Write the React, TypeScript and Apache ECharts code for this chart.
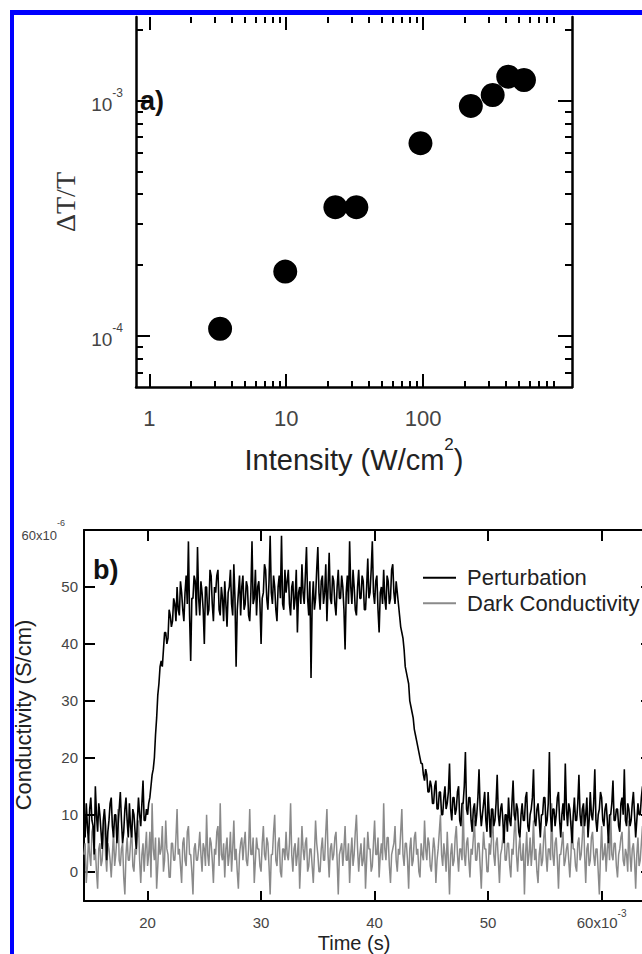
import React, { useEffect, useRef } from "react";
import * as echarts from "echarts";

// ---------- Panel a) : ΔT/T versus intensity (log-log) ----------
const INTENSITY = [3.29, 9.84, 22.85, 32.54, 95.6, 223, 322, 418, 545]; // W/cm^2
const DELTA_T = [1.073e-4, 1.878e-4, 3.524e-4, 3.524e-4, 6.59e-4, 9.49e-4, 1.056e-3, 1.263e-3, 1.223e-3];
const INTENSITY_RANGE = [0.8, 1222];
const DELTA_T_RANGE = [6.07e-5, 2.265e-3];
const INTENSITY_MAJOR = [1, 10, 100];
const INTENSITY_MINOR = [2, 3, 4, 5, 6, 7, 8, 9, 20, 30, 40, 50, 60, 70, 80, 90, 200, 300, 400, 500, 600, 700, 800, 900];
const DELTA_T_MAJOR = [1e-4, 1e-3];
const DELTA_T_MINOR = [7e-5, 8e-5, 9e-5, 2e-4, 3e-4, 4e-4, 5e-4, 6e-4, 7e-4, 8e-4, 9e-4, 2e-3];

// ---------- Panel b) : conductivity versus time ----------
const TIME_START = 14.4; // x10^-3 s
const TIME_STEP = 0.1;
const TIME_RANGE = [14.4, 64.35];
const TIME_TICKS = [20, 30, 40, 50, 60];
const COND_RANGE = [-5.15, 60];
const COND_TICKS = [0, 10, 20, 30, 40, 50, 60];

// x10^-6 S/cm, one value every 0.1 ms starting at 14.4 ms
const PERTURBATION = [
  9, 6, 12, 8, 5, 11, 13, 9, 8, 3, 15, 10, 7, 12, 10, 7, 4, 9, 11, 8,
  2, 7, 9, 12, 13, 8, 6, 10, 10, 5, 8, 11, 14, 9, 5, 7, 11, 13, 9, 6,
  12, 8, 6, 11, 10, 7, 4, 9, 13, 10, 8, 12, 16, 9, 9, 11, 10, 12, 13, 15,
  17, 18, 20, 24, 27, 31, 33, 36, 37, 36, 39, 42, 42, 40, 41, 46, 45, 43, 44, 48,
  47, 44, 50, 46, 45, 51, 49, 46, 44, 49, 52, 47, 58, 45, 37, 48, 48, 52, 51, 45,
  57, 48, 45, 51, 49, 46, 40, 50, 50, 45, 46, 53, 52, 47, 44, 50, 49, 52, 53, 46,
  45, 50, 48, 44, 51, 47, 43, 49, 50, 53, 47, 45, 54, 48, 36, 46, 49, 52, 45, 50,
  52, 46, 47, 51, 50, 45, 44, 49, 58, 47, 48, 53, 45, 50, 51, 47, 40, 48, 49, 54,
  53, 48, 46, 51, 59, 49, 47, 52, 50, 46, 44, 50, 52, 48, 59, 47, 46, 53, 49, 51,
  53, 47, 45, 50, 51, 46, 48, 53, 42, 49, 50, 47, 54, 49, 47, 52, 57, 48, 45, 51,
  34, 47, 51, 46, 48, 53, 57, 49, 46, 51, 52, 47, 49, 54, 44, 50, 56, 48, 47, 52,
  51, 47, 45, 50, 53, 48, 48, 52, 50, 46, 39, 49, 52, 47, 58, 50, 47, 53, 50, 46,
  45, 50, 53, 48, 48, 52, 51, 46, 46, 50, 55, 48, 49, 53, 58, 49, 47, 51, 52, 46,
  42, 49, 50, 47, 53, 48, 46, 52, 51, 47, 48, 53, 54, 49, 47, 51, 49, 47, 45, 43,
  42, 41, 39, 36, 35, 34, 33, 30, 29, 28, 27, 25, 24, 23, 22, 21, 20, 19, 19, 17,
  16, 18, 17, 14, 14, 16, 15, 12, 12, 15, 16, 11, 11, 14, 14, 10, 10, 13, 15, 11,
  12, 14, 19, 11, 9, 13, 13, 10, 11, 14, 15, 9, 8, 12, 12, 15, 21, 11, 10, 13,
  13, 9, 7, 11, 12, 8, 10, 13, 18, 11, 8, 10, 12, 14, 9, 7, 14, 10, 6, 11,
  11, 8, 9, 12, 17, 10, 8, 11, 12, 9, 5, 10, 10, 7, 13, 9, 8, 12, 16, 10,
  9, 12, 11, 7, 6, 10, 12, 9, 9, 13, 14, 8, 7, 10, 11, 13, 18, 9, 8, 11,
  12, 9, 6, 10, 10, 13, 13, 8, 9, 12, 21, 10, 7, 11, 11, 8, 10, 13, 14, 9,
  6, 10, 12, 9, 19, 11, 8, 12, 11, 8, 5, 10, 13, 9, 9, 12, 17, 10, 8, 11,
  12, 8, 10, 13, 6, 9, 14, 10, 9, 12, 18, 9, 7, 10, 11, 14, 13, 9, 8, 11,
  12, 9, 5, 10, 10, 12, 16, 9, 9, 11, 11, 8, 7, 12, 13, 10, 18, 9, 8, 12,
  11, 8, 9, 12, 14, 10, 6, 9, 12, 10, 10, 13, 15, 9, 8, 11, 11, 7, 9, 12,
];

const DARK_CONDUCTIVITY = [
  3, 5, -2, 1, 6, 3, 1, 7, 8, 2, 4, 0, -3, 4, 5, 1, 2, 6, 10, 3,
  0, 5, 4, 2, -1, 3, 7, 1, 3, 6, 11, 2, 1, 4, 5, -1, -4, 3, 6, 2,
  2, 5, 8, 1, 0, 4, 3, 6, 9, 2, -2, 3, 5, 0, 4, 7, 1, 3, 7, -1,
  12, 4, 2, 6, -3, 1, 6, 3, 4, 8, 0, 2, 9, 4, 3, -1, -1, 5, 5, 2,
  2, 6, 11, 3, 4, 1, -2, 5, 6, 2, 1, 7, 8, 3, 3, 0, -4, 4, 5, 2,
  2, 4, 7, 3, 0, 5, 4, 1, 10, 3, 1, 6, 5, 2, -2, 4, 3, 7, 8, 1,
  12, 3, 2, 5, -1, 4, 6, 1, 3, 7, 0, 4, 9, 2, 4, 0, -3, 3, 5, 6,
  2, 5, 7, 2, 1, 4, 11, 3, 3, 6, -2, 2, 6, 4, 4, 1, 0, 5, 8, 3,
  2, 6, 5, 1, -4, 3, 3, 7, 10, 2, 1, 5, 6, 0, -1, 4, 4, 2, 7, 3,
  2, 5, 12, 3, 0, 4, 5, 1, 3, 6, -3, 2, 8, 4, 2, 5, 6, 0, 1, 4,
  4, 1, -2, 3, 9, 5, 3, 0, 0, 4, 6, 2, 2, 7, 11, 3, -1, 4, 5, 2,
  3, 6, 7, 2, -4, 3, 4, 5, 1, 4, 8, 2, 2, 5, -2, 3, 6, 1, 3, 7,
  10, 4, 0, 3, 5, 1, 2, 6, -3, 2, 7, 4, 4, 0, 1, 5, 9, 3, 3, 6,
  -1, 3, 5, 2, 12, 4, 2, 6, 6, 1, -2, 3, 4, 5, 8, 2, 0, 4, 3, 7,
  11, 3, 1, 5, 5, 2, -3, 4, 6, 1, 2, 6, 7, 3, 4, 0, -1, 5, 3, 2,
  9, 4, 2, 6, 5, 1, 0, 3, 6, 4, -2, 2, 4, 7, 10, 3, 1, 5, 3, 0,
  7, 2, -4, 3, 5, 1, 2, 6, 8, 3, 0, 4, 4, 2, 12, 3, 1, 5, 6, 2,
  -1, 4, 3, 6, 9, 2, 2, 5, 5, 1, -3, 3, 7, 4, 4, 0, 0, 5, 3, 6,
  11, 3, 1, 5, 6, 2, -2, 3, 4, 6, 8, 2, 2, 5, 5, 1, -1, 4, 3, 7,
  10, 3, 0, 4, 6, 2, 2, 5, -4, 3, 7, 1, 3, 6, 1, 4, 9, 2, 4, 0,
  -2, 3, 5, 1, 2, 6, 8, 3, 0, 4, 4, 2, 12, 3, 1, 5, 6, 2, -3, 3,
  3, 5, 7, 1, 2, 4, 5, 2, -1, 3, 9, 4, 4, 1, 0, 5, 6, 2, 3, 6,
  11, 3, -2, 4, 5, 1, 2, 6, 7, 3, 1, 4, 4, 0, -4, 3, 8, 2, 3, 5,
  0, 4, 6, 2, 10, 3, 2, 5, 5, 1, -1, 3, 4, 6, 7, 2, 1, 4, 3, 0,
  9, 3, 0, 4, 5, 2, -3, 3, 6, 1, 2, 5, 8, 3, 4, 0, 1, 4, 3, 2,
];

const lg = (v: number) => Math.log10(v);
const F = "'Liberation Sans', Arial, Helvetica, sans-serif";
const SERIF = "'Liberation Serif', 'Times New Roman', serif";
const LBL = "#444";

function axis(
  grid: number,
  position: string,
  range: number[],
  ticks: number[],
  len: number,
  showLine: boolean,
  lineWidth: number,
  label?: any
) {
  return {
    type: "value",
    gridIndex: grid,
    position,
    offset: 0,
    min: range[0],
    max: range[1],
    splitLine: { show: false },
    axisLine: { show: showLine, onZero: false, lineStyle: { color: "#000", width: lineWidth } },
    axisTick: {
      show: true,
      inside: true,
      length: len,
      customValues: ticks,
      lineStyle: { color: "#000", width: 2 },
    },
    axisLabel: label ?? { show: false },
    axisPointer: { show: false },
  };
}

export default function App() {
  const ref = useRef<HTMLDivElement>(null);

  useEffect(() => {
    const chart = echarts.init(ref.current!, null, { renderer: "svg" });

    const xLogRange = INTENSITY_RANGE.map(lg);
    const yLogRange = DELTA_T_RANGE.map(lg);
    const timeOf = (i: number) => Number((TIME_START + i * TIME_STEP).toFixed(2));

    const option: any = {
      animation: false,
      backgroundColor: "#fff",
      grid: [
        { left: 136, top: 17, width: 436, height: 370, containLabel: false, outerBoundsMode: "none" },
        { left: 84, top: 530, width: 567, height: 371, containLabel: false, outerBoundsMode: "none" },
      ],
      xAxis: [
        axis(0, "bottom", xLogRange, INTENSITY_MAJOR.map(lg), 13, true, 2.5, {
          show: true,
          customValues: INTENSITY_MAJOR.map(lg),
          formatter: (v: number) => String(Math.round(Math.pow(10, v))),
          margin: 20,
          fontSize: 22,
          color: LBL,
          fontFamily: F,
        }),
        axis(0, "bottom", xLogRange, INTENSITY_MINOR.map(lg), 6, false, 2.5),
        axis(0, "top", xLogRange, INTENSITY_MAJOR.map(lg), 13, false, 2.5),
        axis(0, "top", xLogRange, INTENSITY_MINOR.map(lg), 6, false, 2.5),
        axis(1, "bottom", TIME_RANGE, TIME_TICKS, 10, true, 2, {
          show: true,
          customValues: TIME_TICKS,
          formatter: (v: number) => (v === 60 ? "{n|60x10}{s|-3}" : "{n|" + v + "}"),
          margin: 7,
          rich: {
            n: { fontSize: 15, color: LBL, fontFamily: F, padding: [7, 0, 0, 0], verticalAlign: "bottom" },
            s: { fontSize: 10, color: LBL, fontFamily: F, verticalAlign: "top" },
          },
        }),
        axis(1, "top", TIME_RANGE, TIME_TICKS, 11, true, 2),
      ],
      yAxis: [
        axis(0, "left", yLogRange, DELTA_T_MAJOR.map(lg), 14, true, 2.5, {
          show: true,
          customValues: DELTA_T_MAJOR.map(lg),
          formatter: (v: number) => "{b|10}{s|" + Math.round(v) + "}",
          margin: 13,
          rich: {
            b: { fontSize: 19, color: LBL, fontFamily: F, padding: [8, 0, 0, 0], verticalAlign: "bottom" },
            s: { fontSize: 12, color: LBL, fontFamily: F, verticalAlign: "top" },
          },
        }),
        axis(0, "left", yLogRange, DELTA_T_MINOR.map(lg), 7, false, 2.5),
        axis(0, "right", yLogRange, DELTA_T_MAJOR.map(lg), 14, true, 2.5),
        axis(0, "right", yLogRange, DELTA_T_MINOR.map(lg), 7, false, 2.5),
        axis(1, "left", COND_RANGE, COND_TICKS, 11, true, 2, {
          show: true,
          customValues: COND_TICKS,
          formatter: (v: number) => (v === 60 ? "{n|60x10}{s|-6}" : "{m|" + v + "}"),
          margin: 6,
          rich: {
            m: { fontSize: 15, color: LBL, fontFamily: F },
            n: { fontSize: 13, color: LBL, fontFamily: F, padding: [10, 0, 0, 0], verticalAlign: "bottom" },
            s: { fontSize: 9, color: LBL, fontFamily: F, verticalAlign: "top", padding: [0, 13, 0, 0] },
          },
        }),
        axis(1, "right", COND_RANGE, COND_TICKS, 10, true, 2),
      ],
      legend: {
        data: ["Perturbation", "Dark Conductivity"],
        orient: "vertical",
        left: 423,
        top: 566.7,
        padding: 0,
        icon: "rect",
        itemWidth: 33,
        itemHeight: 2,
        itemGap: 3.6,
        selectedMode: false,
        textStyle: { fontSize: 22, fontFamily: F, color: "#222", lineHeight: 22, padding: [0, 0, 0, 6] },
      },
      series: [
        {
          type: "scatter",
          name: "ΔT/T",
          xAxisIndex: 0,
          yAxisIndex: 0,
          symbol: "circle",
          symbolSize: 24,
          itemStyle: { color: "#000", opacity: 1 },
          silent: true,
          data: INTENSITY.map((x, i) => [lg(x), lg(DELTA_T[i])]),
        },
        {
          type: "line",
          name: "Dark Conductivity",
          xAxisIndex: 4,
          yAxisIndex: 4,
          symbol: "none",
          showSymbol: false,
          silent: true,
          lineStyle: { color: "#8a8a8a", width: 1.5 },
          itemStyle: { color: "#8a8a8a" },
          data: DARK_CONDUCTIVITY.map((v, i) => [timeOf(i), v]),
        },
        {
          type: "line",
          name: "Perturbation",
          xAxisIndex: 4,
          yAxisIndex: 4,
          symbol: "none",
          showSymbol: false,
          silent: true,
          lineStyle: { color: "#000", width: 1.6 },
          itemStyle: { color: "#000" },
          data: PERTURBATION.map((v, i) => [timeOf(i), v]),
        },
      ],
      graphic: [
        {
          type: "text",
          x: 65,
          y: 202,
          rotation: Math.PI / 2,
          style: { text: "ΔT/T", font: "28px " + SERIF, fill: "#333", align: "center", verticalAlign: "middle" },
        },
        {
          type: "text",
          x: 354,
          y: 455,
          style: {
            text: "{n|Intensity (W/cm}{s|2}{n|)}",
            align: "center",
            verticalAlign: "middle",
            rich: {
              n: { fontSize: 29, fontFamily: F, fill: "#222", padding: [10, 0, 0, 0], verticalAlign: "bottom" },
              s: { fontSize: 17, fontFamily: F, fill: "#222", verticalAlign: "top" },
            },
          },
        },
        {
          type: "text",
          x: 140,
          y: 101,
          style: { text: "a)", font: "bold 27px " + F, fill: "#111", align: "left", verticalAlign: "middle" },
        },
        {
          type: "text",
          x: 93,
          y: 570,
          style: { text: "b)", font: "bold 27px " + F, fill: "#111", align: "left", verticalAlign: "middle" },
        },
        {
          type: "text",
          x: 23,
          y: 715,
          rotation: Math.PI / 2,
          style: { text: "Conductivity (S/cm)", font: "22px " + F, fill: "#222", align: "center", verticalAlign: "middle" },
        },
        {
          type: "text",
          x: 354,
          y: 943,
          style: { text: "Time (s)", font: "20px " + F, fill: "#222", align: "center", verticalAlign: "middle" },
        },
        { type: "rect", z: 100, shape: { x: 10, y: 10, width: 632, height: 5 }, style: { fill: "#0000ff" } },
        { type: "rect", z: 100, shape: { x: 10, y: 10, width: 4, height: 944 }, style: { fill: "#0000ff" } },
      ],
    };

    chart.setOption(option);
    return () => chart.dispose();
  }, []);

  return (
    <div
      ref={ref}
      style={{ position: "fixed", left: 0, top: 0, width: 642, height: 954, background: "#fff" }}
    />
  );
}
